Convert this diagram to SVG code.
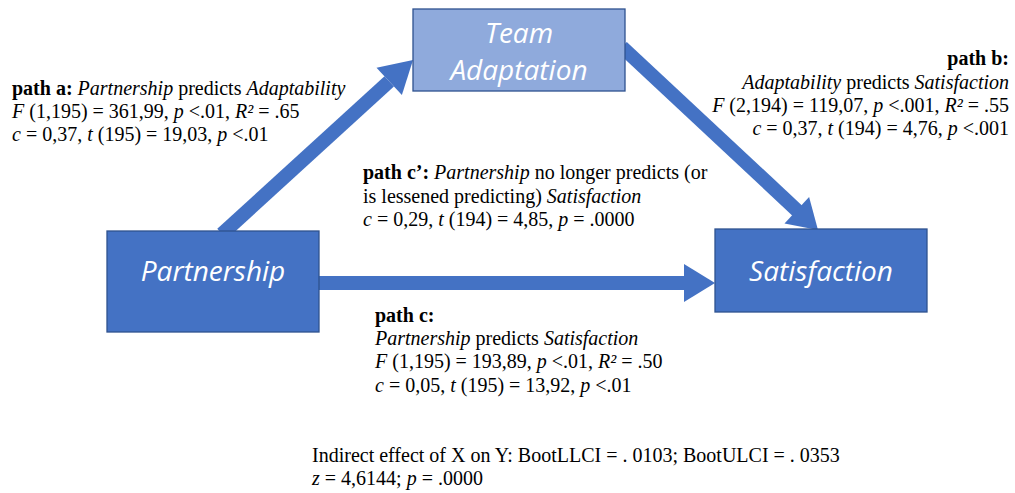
<svg xmlns="http://www.w3.org/2000/svg" width="1015" height="493" viewBox="0 0 1015 493">
  <defs>
    <style>
      .box { stroke: #2F528F; stroke-width: 1.3; }
      .dark { fill: #4472C4; }
      .light { fill: #8FAADC; }
      .node-label { font-family: "Open Sans", "Liberation Sans", sans-serif; font-style: italic; font-size: 28px; fill: #FFFFFF; text-anchor: middle; }
      .shaft { stroke: #4472C4; stroke-width: 14; fill: none; }
      .head { fill: #4472C4; }
      .note { font-family: "Liberation Serif", "Times New Roman", serif; font-size: 20px; fill: #000000; }
      .b { font-weight: bold; }
      .i { font-style: italic; }
      .end { text-anchor: end; }
    </style>
  </defs>

  <!-- connectors: thick shafts with triangular heads -->
  <g id="connectors">
    <!-- path a: Partnership -> Team Adaptation -->
    <line class="shaft" x1="222" y1="234" x2="389.2" y2="81.4"/>
    <polygon class="head" points="413,60 401.9,95.1 376.5,67.7"/>
    <!-- path b: Team Adaptation -> Satisfaction -->
    <line class="shaft" x1="622" y1="47" x2="797.5" y2="210.8"/>
    <polygon class="head" points="818,230 784.5,223.4 809.1,197"/>
    <!-- path c: Partnership -> Satisfaction -->
    <line class="shaft" x1="318" y1="283" x2="685" y2="283"/>
    <polygon class="head" points="684,264 715,283 684,302"/>
  </g>

  <g id="node-team-adaptation">
    <rect class="box light" x="413" y="9" width="212" height="82"/>
    <text class="node-label" x="519" y="43">Team</text>
    <text class="node-label" x="519" y="80">Adaptation</text>
  </g>

  <g id="node-partnership">
    <rect class="box dark" x="107" y="231" width="212" height="101"/>
    <text class="node-label" x="213" y="281">Partnership</text>
  </g>

  <g id="node-satisfaction">
    <rect class="box dark" x="715" y="229" width="212" height="83"/>
    <text class="node-label" x="821" y="281">Satisfaction</text>
  </g>

  <!-- path statistics -->
  <g id="label-path-a" class="note">
    <text x="12" y="95"><tspan class="b">path a:</tspan> <tspan class="i">Partnership</tspan> predicts <tspan class="i">Adaptability</tspan></text>
    <text x="12" y="118"><tspan class="i">F</tspan> (1,195) = 361,99, <tspan class="i">p</tspan> &lt;.01, <tspan class="i">R²</tspan> = .65</text>
    <text x="12" y="141"><tspan class="i">c</tspan> = 0,37, <tspan class="i">t</tspan> (195) = 19,03, <tspan class="i">p</tspan> &lt;.01</text>
  </g>

  <g id="label-path-b" class="note end">
    <text x="1009" y="65" class="b">path b:</text>
    <text x="1009" y="89"><tspan class="i">Adaptability</tspan> predicts <tspan class="i">Satisfaction</tspan></text>
    <text x="1009" y="112"><tspan class="i">F</tspan> (2,194) = 119,07, <tspan class="i">p</tspan> &lt;.001, <tspan class="i">R²</tspan> = .55</text>
    <text x="1009" y="135"><tspan class="i">c</tspan> = 0,37, <tspan class="i">t</tspan> (194) = 4,76, <tspan class="i">p</tspan> &lt;.001</text>
  </g>

  <g id="label-path-c-prime" class="note">
    <text x="363" y="179"><tspan class="b">path c’:</tspan> <tspan class="i">Partnership</tspan> no longer predicts (or</text>
    <text x="363" y="203">is lessened predicting) <tspan class="i">Satisfaction</tspan></text>
    <text x="363" y="226"><tspan class="i">c</tspan> = 0,29, <tspan class="i">t</tspan> (194) = 4,85, <tspan class="i">p</tspan> = .0000</text>
  </g>

  <g id="label-path-c" class="note">
    <text x="375" y="322" class="b">path c:</text>
    <text x="375" y="345"><tspan class="i">Partnership</tspan> predicts <tspan class="i">Satisfaction</tspan></text>
    <text x="375" y="368"><tspan class="i">F</tspan> (1,195) = 193,89, <tspan class="i">p</tspan> &lt;.01, <tspan class="i">R²</tspan> = .50</text>
    <text x="375" y="392"><tspan class="i">c</tspan> = 0,05, <tspan class="i">t</tspan> (195) = 13,92, <tspan class="i">p</tspan> &lt;.01</text>
  </g>

  <g id="label-indirect" class="note">
    <text x="312" y="462">Indirect effect of X on Y: BootLLCI = . 0103; BootULCI = . 0353</text>
    <text x="312" y="485"><tspan class="i">z</tspan> = 4,6144; <tspan class="i">p</tspan> = .0000</text>
  </g>
</svg>
